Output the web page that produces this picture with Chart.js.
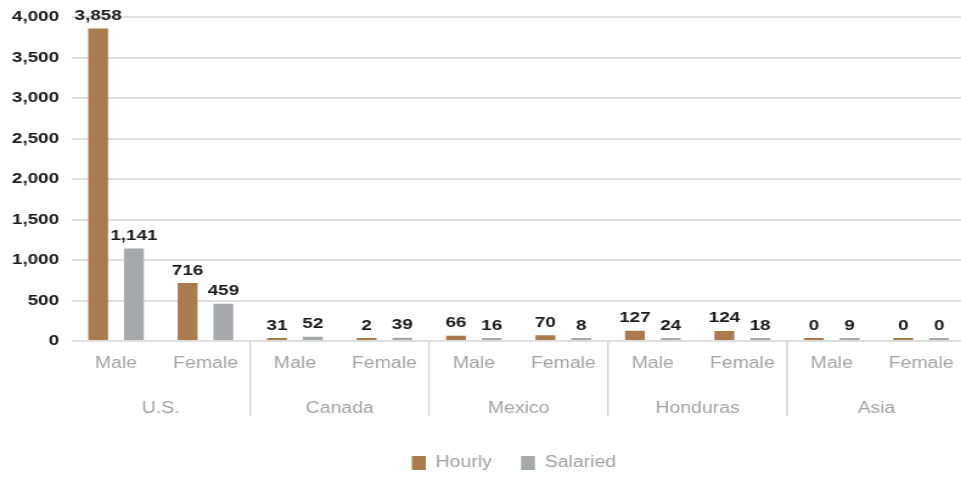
<!DOCTYPE html>
<html>
<head>
<meta charset="utf-8">
<script src="https://cdn.jsdelivr.net/npm/chart.js@4/dist/chart.umd.min.js"></script>
<style>
  html, body { margin: 0; padding: 0; background: #fff; overflow: hidden; }
  #wrap { width: 961px; height: 478px; overflow: hidden; position: relative; }
  #inner { width: 810px; height: 478px; transform: scaleX(1.2165); transform-origin: 0 0; }
</style>
</head>
<body>
<div id="wrap"><div id="inner"><canvas id="c" width="810" height="478"></canvas></div></div>
<script>
const countries = ['U.S.', 'Canada', 'Mexico', 'Honduras', 'Asia'];
const categories = ['Male', 'Female', 'Male', 'Female', 'Male', 'Female', 'Male', 'Female', 'Male', 'Female'];
const hourly = [3858, 716, 31, 2, 66, 70, 127, 124, 0, 0];
const salaried = [1141, 459, 52, 39, 16, 8, 24, 18, 9, 0];
const yTicks = [0, 500, 1000, 1500, 2000, 2500, 3000, 3500, 4000];

const fmt = v => v.toLocaleString('en-US');
const FONT = "'Liberation Sans', Arial, Helvetica, sans-serif";

const valueLabels = {
  id: 'valueLabels',
  afterDatasetsDraw(chart) {
    const ctx = chart.ctx;
    ctx.save();
    ctx.font = 'bold 15.5px ' + FONT;
    ctx.fillStyle = '#1a1a1a';
    ctx.textAlign = 'center';
    ctx.textBaseline = 'alphabetic';
    chart.data.datasets.forEach((ds, i) => {
      const meta = chart.getDatasetMeta(i);
      meta.data.forEach((bar, j) => {
        ctx.fillText(fmt(ds.data[j]), bar.x, bar.y - 8.5);
      });
    });
    ctx.restore();
  }
};

const groupAxis = {
  id: 'groupAxis',
  afterDraw(chart) {
    const ctx = chart.ctx;
    const xs = chart.scales.x;
    const area = chart.chartArea;
    const catW = xs.width / categories.length;
    ctx.save();
    ctx.strokeStyle = '#d0d0d0';
    ctx.lineWidth = 1.3;
    for (let k = 1; k < countries.length; k++) {
      const x = xs.getPixelForValue(2 * k) - catW / 2;
      ctx.beginPath();
      ctx.moveTo(x, area.bottom);
      ctx.lineTo(x, area.bottom + 75);
      ctx.stroke();
    }
    ctx.font = '16px ' + FONT;
    ctx.fillStyle = '#a3a3a3';
    ctx.textAlign = 'center';
    ctx.textBaseline = 'middle';
    countries.forEach((c, k) => {
      const x = (xs.getPixelForValue(2 * k) + xs.getPixelForValue(2 * k + 1)) / 2;
      ctx.fillText(c, x, area.bottom + 68);
    });
    ctx.restore();
  }
};

const legendShift = {
  id: 'legendShift',
  afterLayout(chart) {
    if (chart.legend) {
      chart.legend.left += 25.5;
      chart.legend.right += 25.5;
    }
  }
};

new Chart(document.getElementById('c'), {
  type: 'bar',
  data: {
    labels: categories,
    datasets: [
      { label: 'Hourly', data: hourly, backgroundColor: '#a97b4d', minBarLength: 3,
        categoryPercentage: 0.8, barPercentage: 0.555 },
      { label: 'Salaried', data: salaried, backgroundColor: '#a7a8ac', minBarLength: 3,
        categoryPercentage: 0.8, barPercentage: 0.555 }
    ]
  },
  options: {
    responsive: false,
    animation: false,
    layout: { padding: { top: 17, right: 16, bottom: -3, left: 0 } },
    plugins: {
      legend: {
        position: 'bottom',
        labels: {
          boxWidth: 11.5, boxHeight: 14, padding: 24,
          color: '#a0a0a0',
          font: { family: FONT, size: 16 }
        }
      },
      tooltip: { enabled: false }
    },
    scales: {
      x: {
        grid: { display: false },
        border: { display: false },
        ticks: {
          color: '#a3a3a3',
          font: { family: FONT, size: 16 },
          padding: 5,
          maxRotation: 0
        },
        afterFit(s) { s.height = 90; }
      },
      y: {
        min: 0, max: 4000,
        afterBuildTicks(s) { s.ticks = yTicks.map(v => ({ value: v })); },
        grid: { color: '#dedede', lineWidth: 2, drawTicks: false },
        border: { display: false },
        ticks: {
          color: '#1a1a1a',
          font: { family: FONT, size: 15.5, weight: 'bold' },
          padding: 10,
          callback: v => fmt(v)
        },
        afterFit(s) { s.width = 58.6; s.paddingTop = 0; s.paddingBottom = 0; }
      }
    }
  },
  plugins: [valueLabels, groupAxis, legendShift]
});
</script>
</body>
</html>
